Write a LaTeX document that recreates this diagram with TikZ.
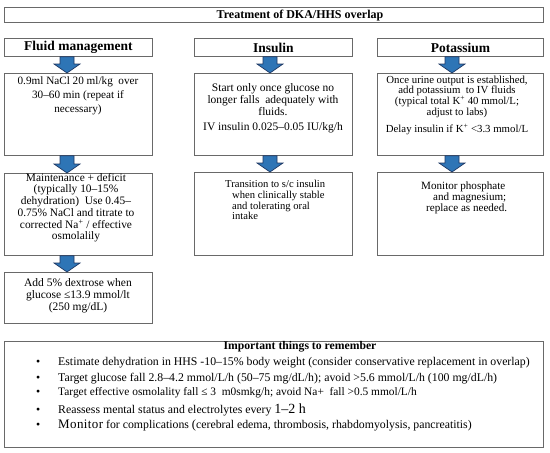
\documentclass[tikz,border=0pt]{standalone}
\usepackage{fontspec}
\setmainfont{Liberation Serif}
\usetikzlibrary{calc}
\definecolor{arrowfill}{RGB}{46,117,182}
\definecolor{arrowline}{RGB}{31,56,100}
\definecolor{boxline}{RGB}{105,105,105}
\newcommand{\tightls}{\lineskiplimit=-100pt\relax}
\tikzset{
  box/.style={draw=boxline, line width=0.8pt, inner sep=0pt, anchor=north west},
  hdr/.style={font=\fontsize{13.5}{16}\selectfont\bfseries},
  txt/.style={inner sep=0pt, align=center, text=black},
  ltxt/.style={inner sep=0pt, align=left, text=black, anchor=north west},
  bl/.style={inner sep=0pt, anchor=west, text=black, font=\fontsize{11.8}{14}\selectfont},
  barrow/.style={fill=arrowfill, draw=arrowline, line width=0.7pt, line join=miter}
}
\newcommand{\blockarr}[3]{%
  \draw[barrow] let \p1=(#1.south), \p2=(#2.north), \p3=(#3,0) in
    (\x3-7pt,\y1) -- (\x3-7pt,\y2+9pt) -- (\x3-13pt,\y2+9pt) -- (\x3,\y2)
    -- (\x3+13pt,\y2+9pt) -- (\x3+7pt,\y2+9pt) -- (\x3+7pt,\y1) -- cycle;}
\begin{document}
\begin{tikzpicture}[x=1pt,y=-1pt]
\useasboundingbox (0,0) rectangle (550,453);
% title
\node[box, minimum width=539pt, minimum height=15pt] (title) at (4,7) {};
\node[txt, font=\fontsize{12}{14}\selectfont\bfseries] (titlet) at (300,15.5) {Treatment of DKA/HHS overlap};
% headers
\node[box, hdr, minimum width=148pt, minimum height=18pt] (hf) at (4,38) {Fluid management};
\node[box, hdr, minimum width=158pt, minimum height=18pt] (hi) at (194,38) {Insulin};
\node[box, hdr, minimum width=166pt, minimum height=18pt] (hk) at (377,38) {Potassium};
% boxes
\node[box, minimum width=148pt, minimum height=82pt] (f1) at (4,73) {};
\node[box, minimum width=158pt, minimum height=82pt] (i1) at (194,73) {};
\node[box, minimum width=166pt, minimum height=82pt] (k1) at (377,73) {};
\node[box, minimum width=148pt, minimum height=82pt] (f2) at (4,173) {};
\node[box, minimum width=158pt, minimum height=83pt] (i2) at (194,172) {};
\node[box, minimum width=166pt, minimum height=83pt] (k2) at (377,172) {};
\node[box, minimum width=148pt, minimum height=51pt] (f3) at (4,272) {};
\node[box, minimum width=539pt, minimum height=106pt] (rem) at (4,341) {};
% arrows
\blockarr{hf}{f1}{67}
\blockarr{f1}{f2}{67}
\blockarr{f2}{f3}{67}
\blockarr{hi}{i1}{270}
\blockarr{i1}{i2}{270}
\blockarr{hk}{k1}{452}
\blockarr{k1}{k2}{452}
% texts
\node[txt, anchor=north, font={\fontsize{11.2}{14}\selectfont}] (f1t) at (78,77)
  {0.9ml NaCl 20 ml/kg\ \ over\\30–60 min (repeat if\\necessary)};
\node[txt, anchor=north, font={\fontsize{11.5}{12.2}\selectfont}] (i1t) at (273,83)
  {Start only once glucose no\\longer falls\ \ adequately with\\fluids.\\[3pt]IV insulin 0.025–0.05 IU/kg/h};
\node[txt, anchor=north, font={\fontsize{10.8}{10.8}\selectfont\tightls}] (k1t) at (457,75.5)
  {Once urine output is established,\\add potassium\ \ to IV fluids\\(typical total K\textsuperscript{+} 40 mmol/L;\\adjust to labs)\\[6pt]Delay insulin if K\textsuperscript{+} <3.3 mmol/L};
\node[txt, anchor=north, font={\fontsize{11.4}{11.7}\selectfont\tightls}] (f2t) at (76,173)
  {Maintenance + deficit\\(typically 10–15\%\\dehydration)\ \ Use 0.45–\\0.75\% NaCl and titrate to\\corrected Na\textsuperscript{+} / effective\\osmolalily};
\node[txt, anchor=north, font={\fontsize{11.5}{12}\selectfont}] (f3t) at (78,278)
  {Add 5\% dextrose when\\glucose ≤13.9 mmol/lt\\(250 mg/dL)};
\node[ltxt, font={\fontsize{10.6}{10.8}\selectfont\tightls}] (i2t) at (232,180)
  {\hspace*{-7pt}Transition to s/c insulin\\when clinically stable\\and tolerating oral\\intake};
\node[ltxt, font={\fontsize{11.1}{11}\selectfont\tightls}] (k2t) at (421,182)
  {Monitor phosphate\\\hspace*{12pt}and magnesium;\\\hspace*{5pt}replace as needed.};
% remember box
\node[txt, font=\fontsize{11.7}{14}\selectfont\bfseries] (remt) at (300,347) {Important things to remember};
\node[bl] (b1) at (36,363) {\makebox[22pt][l]{•}Estimate dehydration in HHS -10–15\% body weight (consider conservative replacement in overlap)};
\node[bl] (b2) at (36,379) {\makebox[22pt][l]{•}Target glucose fall 2.8–4.2 mmol/L/h (50–75 mg/dL/h); avoid >5.6 mmol/L/h (100 mg/dL/h)};
\node[bl, font={\fontsize{11.4}{14}\selectfont}] (b3) at (36,393) {\makebox[22pt][l]{\fontsize{11.8}{14}\selectfont•}Target effective osmolality fall ≤ 3\ \ m0smkg/h; avoid Na+\ \ fall >0.5 mmol/L/h};
\node[bl] (b4) at (36,410) {\makebox[22pt][l]{•}Reassess mental status and electrolytes every {\fontsize{14}{15}\selectfont 1–2 h}};
\node[bl] (b5) at (36,425) {\makebox[22pt][l]{•}{\fontsize{13}{15}\selectfont\addfontfeature{LetterSpace=3}Monitor} for complications {\fontsize{12.5}{15}\selectfont(}cerebral edema, thrombosis, rhabdomyolysis, pancreatitis)};
\end{tikzpicture}
\end{document}
